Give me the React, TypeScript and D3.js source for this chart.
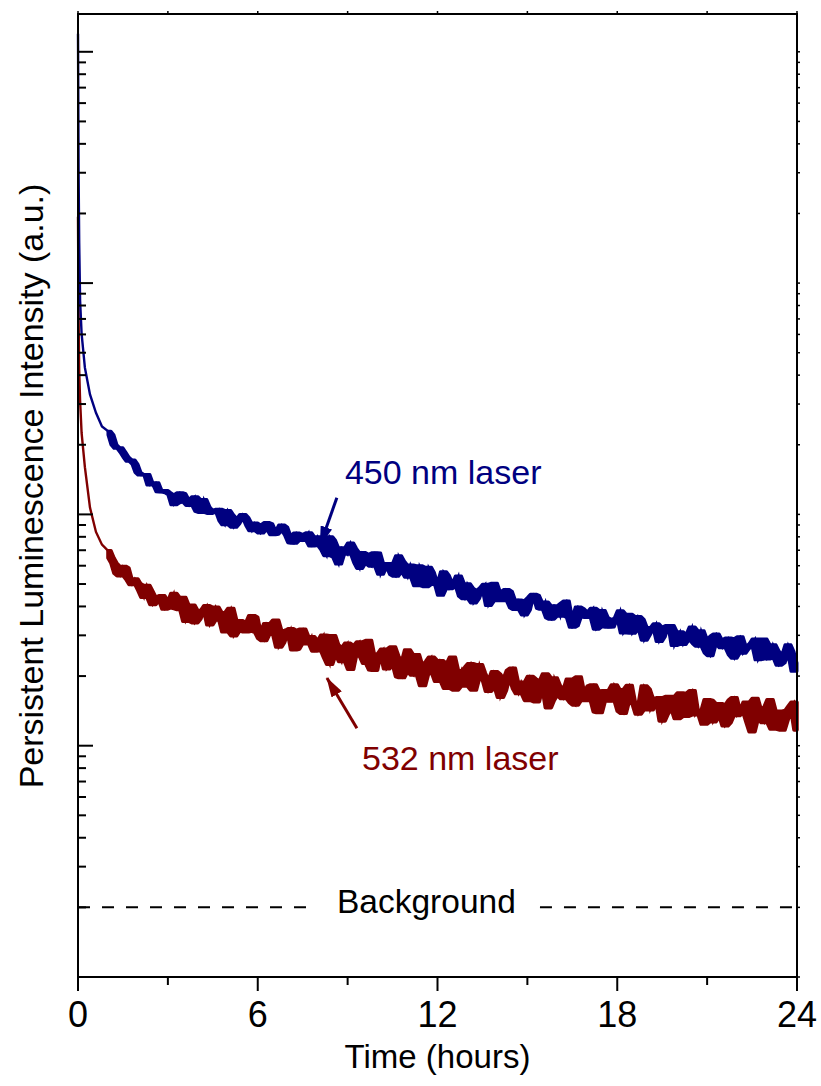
import React from 'react';
import * as d3 from 'd3';

// ---------------- data ----------------
const xMajorTicks = [0, 6, 12, 18, 24];
const xMinorTicks = [3, 9, 15, 21];

// steep initial decay (hours, a.u.)
const earlyHours = [0, 0.02, 0.04, 0.07, 0.12, 0.23, 0.4, 0.6, 0.8];
const blueEarly = [11970, 3000, 1500, 840, 605, 431, 330, 275, 240];
const redEarly = [1937, 700, 420, 311, 225, 160, 107, 84, 74];

// noisy readings, set A at 1.0, 1.2, 1.4 ... 24.0 h
const sampleStartA = 1.0;
// noisy readings, set B at 1.1, 1.3, 1.5 ... 23.9 h
const sampleStartB = 1.1;
const sampleStepHours = 0.2;

const blueNoisyA = [
  229, 200, 194, 177, 172, 152, 148, 134, 137, 125, 124,
  110, 124, 113, 116, 103, 116, 101, 104, 94, 104, 88, 96, 97, 85, 90, 86, 91, 82, 90, 81, 75, 82, 79, 73, 80,
  70.4, 80.1, 65.3, 71.7, 67.3, 71.2, 58.4, 67.2, 59.7, 68.1, 59, 61.4, 54, 62.7, 53.5, 56.8, 60, 48.7, 55.9, 50.8,
  56.5, 47.7, 50.5, 44.3, 50.1, 41.4, 46.9, 49.9, 42.3, 46.2, 42.3, 46.4, 38.8, 42.4, 38.6, 45.2, 39.3, 41.8, 35.2,
  39.8, 41.3, 35.9, 33, 39.1, 35.8, 39.3, 32.7, 35.8, 32.6, 35.6, 30.7, 37, 31.9, 35.1, 30.1, 32.1, 28.2, 32.6, 33.1,
  29.3, 27.4, 30.3, 27.7, 31.4, 25.2, 29.8, 27.4, 28.7, 24.8, 29, 25.1, 26.9, 28.9, 24.9, 23.7, 27.3, 22.3, 24.8, 25.5, 22.8,
];
const blueNoisyB = [
  220.7, 193.1, 185.7, 169.9, 165, 148, 148.7, 135.4, 125.3, 127, 121.5,
  112.3, 122.9, 109.4, 119.3, 102, 108, 102.2, 105.3, 90.2, 99.4, 91, 100, 89.6, 91.7, 83.1, 92.2, 81.7, 85, 88.1,
  75.4, 83.1, 77.2, 83.3, 73.3, 76.1,
  66.3, 77.1, 61, 70.5, 75.3, 61.9, 68.4, 61.3, 68.3, 55.1, 61.4, 55, 66.3, 56.3, 60.5, 49.2, 56.7, 59.1, 49.8, 44.7,
  54.3, 48.8, 54.2, 43.2, 48, 43.2, 48.1, 40.4, 50.4, 42.3, 47.3, 39.5, 42.7, 36.7, 43.7, 44.7, 38.9, 35.8, 40.3,
  36.3, 42.2, 32.5, 39.8, 36, 37.9, 31.9, 38.4, 32.5, 35.2, 38.3, 32.2, 30.6, 36.2, 28.6, 32.4, 33.7, 29.5, 33.1,
  27.1, 31.1, 28.7, 32.6, 26.9, 28.9, 24.5, 30.4, 26.5, 29.2, 23.9, 29.6, 26.2, 27.6, 23.5, 28.9, 24, 25.7, 22.8, 27.3, 21,
];
const redNoisyA = [
  69.7, 61.5, 54.3, 58.6, 49.8, 50.1, 43.8, 46.5, 42.5, 44.5, 39.5,
  45.5, 38.8, 34.5, 40.5, 35.3, 38.5, 33.3, 39.7, 35, 37.6, 29.9, 34.7, 31.1, 36.5, 30.9, 28.5, 32.9, 34.9, 28, 30.4,
  26, 31.5, 27.6, 29.6, 25.8,
  30, 22.5, 27.3, 23.1, 27.7, 24.7, 28.1, 22.7, 21.3, 24.6, 26.1, 22.3, 24.5, 19.7, 25.9, 20.2, 22.3, 20.4, 24.1, 19,
  22.6, 20.1, 17.4, 21.1, 21.8, 17.4, 22.4, 19.2, 17.9, 20.4, 17.3, 21.1, 17.7, 18.8, 15.7, 19.4, 17.5, 20.4, 15.7,
  18.2, 16, 19.4, 15, 17.1, 15.7, 18.3, 13.9, 17.3, 15.6, 17.4, 13.8, 18.2, 15.1, 14.3, 17.5, 15.3, 16.1, 13.7, 16.3,
  13.1, 15.5, 16.8, 13.6, 14.2, 15.8, 12.7, 15.2, 12.2, 15.7, 13.5, 14.2, 12.6, 16, 13, 14.7, 11.8, 14.1, 12.9, 14.8, 11.7,
];
const redNoisyB = [
  64.8, 55.7, 59.6, 52.4, 52.6, 46.9, 49.3, 40.8, 43.8, 39, 42.2,
  39.2, 43.7, 36, 34, 38.4, 40.3, 34.9, 37.7, 31.1, 39.2, 31.4, 34, 31.3, 35.9, 29.1, 33.7, 30.3, 26.7, 31.4, 32,
  26.2, 31.9, 27.7, 25.7, 28.4,
  24, 29.9, 24.7, 26.5, 21.4, 27.1, 24.3, 28.5, 21.2, 25, 21.5, 26.7, 19.9, 23.1, 20.9, 24.7, 18.2, 23.1, 20.7, 23.3,
  17.7, 24.1, 19.4, 18.1, 22.6, 19.5, 20.6, 17.2, 20.9, 16.2, 19.5, 21.6, 16.8, 17.6, 19.9, 15.5, 19, 14.6, 19.6,
  16.5, 17.5, 15.4, 19.8, 15.7, 18.1, 14, 17.2, 15.6, 18.3, 14.1, 17.5, 15.5, 13.7, 18.1, 14.3, 16, 12.8, 16.3, 14.4,
  16.9, 13.4, 17.3, 14.2, 12.4, 15.7, 13.4, 15, 12.6, 16.1, 13.9, 15.4, 11.5, 14.4, 12.6, 15.8, 12.9, 11.7, 14.2, 15.4,
];

const backgroundLevel = 2;
const backgroundGap = [7.74, 15.42]; // hours where the label interrupts the line

// annotations: [hour, value]
const blueLabel = { text: '450 nm laser', at: [8.91, 136] };
const blueArrow = { from: [8.64, 118], to: [8.08, 73.5] };
const redLabel = { text: '532 nm laser', at: [9.48, 7.84] };
const redArrow = { from: [9.31, 11.9], to: [8.31, 19.6] };
const bgLabel = { text: 'Background', at: [11.63, 1.89] };

// ---------------- layout ----------------
const W = 821;
const H = 1086;
const L = 78, R = 797, T = 14, B = 977;
const BLUE = '#000080';
const RED = '#800000';
const FONT = '"Liberation Sans", Arial, Helvetica, sans-serif';

const x = d3.scaleLinear().domain([0, 24]).range([L, R]);
const y = d3.scaleLog().domain([1, Math.pow(10, 963 / 231.3)]).range([B, T]);

type P = { t: number; v: number };
type Band = { t: number; lo: number; hi: number };
const build = (early: number[], a: number[], b: number[]) => {
  const e: P[] = early.map((v, i) => ({ t: earlyHours[i], v }));
  const pa: P[] = a.map((v, i) => ({ t: sampleStartA + i * sampleStepHours, v }));
  const pb: P[] = b.map((v, i) => ({ t: sampleStartB + i * sampleStepHours, v }));
  const noisy = pa.concat(pb).sort((p, q) => p.t - q.t);
  // min/max envelope over neighbouring readings (how a dense trace renders)
  const band: Band[] = noisy.map((p, i) => {
    const w = noisy.slice(Math.max(0, i - 1), Math.min(noisy.length, i + 2)).map((d) => d.v);
    return { t: p.t, lo: d3.min(w) as number, hi: d3.max(w) as number };
  });
  return { all: e.concat(noisy), band };
};
const blue = build(blueEarly, blueNoisyA, blueNoisyB);
const red = build(redEarly, redNoisyA, redNoisyB);

const line = d3.line<P>().x((d) => x(d.t)).y((d) => y(d.v));
const area = d3.area<Band>().x((d) => x(d.t)).y0((d) => y(d.lo)).y1((d) => y(d.hi));

const yTicks = y.ticks().filter((v) => v >= 1 && y(v) >= T);
const isMajor = (v: number) => Math.abs(Math.log10(v) - Math.round(Math.log10(v))) < 1e-9;

export default function App() {
  return (
    <svg
      width={W}
      height={H}
      viewBox={`0 0 ${W} ${H}`}
      style={{ position: 'absolute', left: 0, top: 0, background: '#fff' }}
      fontFamily={FONT}
    >
      <defs>
        <marker id="ahBlue" viewBox="0 0 20 12" refX="19" refY="6" markerWidth="20" markerHeight="12"
          markerUnits="userSpaceOnUse" orient="auto">
          <path d="M0,0 L20,6 L0,12 Z" fill={BLUE} />
        </marker>
        <marker id="ahRed" viewBox="0 0 20 12" refX="19" refY="6" markerWidth="20" markerHeight="12"
          markerUnits="userSpaceOnUse" orient="auto">
          <path d="M0,0 L20,6 L0,12 Z" fill={RED} />
        </marker>
      </defs>

      {/* data */}
      <g>
        <path d={area(red.band) || ''} fill={RED} stroke={RED} strokeWidth={3.5} strokeLinejoin="round" />
        <path d={line(red.all) || ''} fill="none" stroke={RED} strokeWidth={2.4} strokeLinejoin="miter" />
        <path d={area(blue.band) || ''} fill={BLUE} stroke={BLUE} strokeWidth={3} strokeLinejoin="round" />
        <path d={line(blue.all) || ''} fill="none" stroke={BLUE} strokeWidth={2.4} strokeLinejoin="miter" />
      </g>

      {/* background */}
      <line x1={x(0)} x2={x(backgroundGap[0])} y1={y(backgroundLevel)} y2={y(backgroundLevel)}
        stroke="#000" strokeWidth={2} strokeDasharray="12 12" />
      <line x1={x(backgroundGap[1])} x2={x(24)} y1={y(backgroundLevel)} y2={y(backgroundLevel)}
        stroke="#000" strokeWidth={2} strokeDasharray="12 12" />
      <text x={x(bgLabel.at[0])} y={y(bgLabel.at[1])} textAnchor="middle" fontSize={33.5} fill="#000">
        {bgLabel.text}
      </text>

      {/* annotations */}
      <line x1={x(blueArrow.from[0])} y1={y(blueArrow.from[1])} x2={x(blueArrow.to[0])} y2={y(blueArrow.to[1])}
        stroke={BLUE} strokeWidth={3} markerEnd="url(#ahBlue)" />
      <text x={x(blueLabel.at[0])} y={y(blueLabel.at[1])} fontSize={34} fill={BLUE}>{blueLabel.text}</text>
      <line x1={x(redArrow.from[0])} y1={y(redArrow.from[1])} x2={x(redArrow.to[0])} y2={y(redArrow.to[1])}
        stroke={RED} strokeWidth={3} markerEnd="url(#ahRed)" />
      <text x={x(redLabel.at[0])} y={y(redLabel.at[1])} fontSize={34} fill={RED}>{redLabel.text}</text>

      {/* frame */}
      <rect x={L} y={T} width={R - L} height={B - T} fill="none" stroke="#000" strokeWidth={2} />

      {/* y ticks: left inward, right outward */}
      {yTicks.map((v, i) => {
        const yy = y(v);
        const major = isMajor(v);
        return (
          <g key={'y' + i}>
            <line x1={L} x2={L + (major ? 15 : 8)} y1={yy} y2={yy} stroke="#000" strokeWidth={2} />
            <line x1={R} x2={R + 3} y1={yy} y2={yy} stroke="#000" strokeWidth={1.5} />
          </g>
        );
      })}

      {/* x ticks */}
      {xMajorTicks.map((t) => (
        <g key={'xM' + t}>
          <line x1={x(t)} x2={x(t)} y1={B} y2={B + 14} stroke="#000" strokeWidth={2} />
          <line x1={x(t)} x2={x(t)} y1={T} y2={T - 3} stroke="#000" strokeWidth={1.5} />
          <text x={x(t)} y={1027} textAnchor="middle" fontSize={36} fill="#000">{t}</text>
        </g>
      ))}
      {xMinorTicks.map((t) => (
        <g key={'xm' + t}>
          <line x1={x(t)} x2={x(t)} y1={B} y2={B + 8} stroke="#000" strokeWidth={2} />
          <line x1={x(t)} x2={x(t)} y1={T} y2={T - 3} stroke="#000" strokeWidth={1.5} />
        </g>
      ))}

      {/* axis titles */}
      <text x={(L + R) / 2} y={1068} textAnchor="middle" fontSize={33} fill="#000">Time (hours)</text>
      <text transform={`translate(43,486) rotate(-90)`} textAnchor="middle" fontSize={34} fill="#000">
        Persistent Luminescence Intensity (a.u.)
      </text>
    </svg>
  );
}
